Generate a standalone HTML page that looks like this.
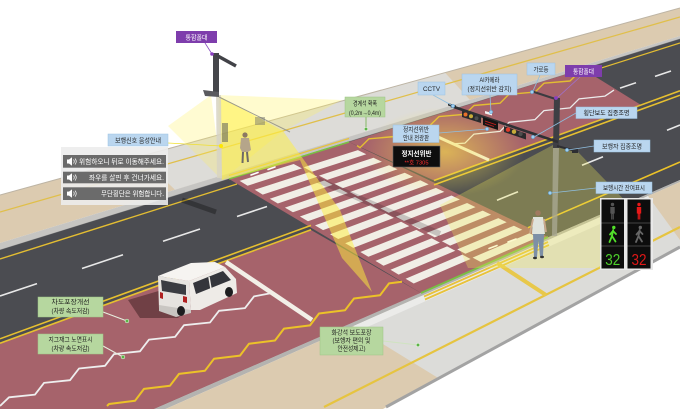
<!DOCTYPE html>
<html><head><meta charset="utf-8"><style>
html,body{margin:0;padding:0;background:#fff;width:680px;height:409px;overflow:hidden}
svg{display:block}
text{font-family:"Liberation Sans","Noto Sans CJK KR",sans-serif}
</style></head><body>
<svg width="680" height="409" viewBox="0 0 680 409" xmlns="http://www.w3.org/2000/svg" style="overflow:hidden">
<defs>
<radialGradient id="glow" cx="50%" cy="50%" r="50%">
<stop offset="0" stop-color="#ffe94a" stop-opacity="0.6"/>
<stop offset="1" stop-color="#ffe94a" stop-opacity="0"/>
</radialGradient>
</defs>
<rect width="680" height="409" fill="#ffffff"/>

<!-- far sidewalk -->
<polygon points="0,195 680,8 680,36 0,243" fill="#dccbb0"/>
<polygon points="140,156.5 445,72.6 470,100 175,189.7" fill="#dddcd8"/>
<line x1="0" y1="212" x2="680" y2="17" stroke="#e0bf4a" stroke-width="1.3"/>
<line x1="0" y1="195" x2="680" y2="8" stroke="#bdb4a4" stroke-width="1"/>
<polygon points="0,243 680,36 680,39 0,250" fill="#c6c5c2"/>
<line x1="0" y1="250" x2="680" y2="39" stroke="#8a8a8a" stroke-width="0.8"/>

<!-- road -->
<polygon points="0,250 680,39 680,180 154,409 0,409" fill="#4b4c51"/>

<!-- red zones -->
<g fill="#a6636b">
<polygon points="0,343 311,230 421,293 154,409 0,409"/>
<polygon points="229,179 349,142 548,237 421,293"/>
<polygon points="349,142 583,69 641,105 434,180.5"/>
</g>

<!-- crosswalk stripes -->
<g fill="#f1eee6">
<polygon points="239.6,180.9 293.7,164.0 301.9,168.4 247.6,185.7"/>
<polygon points="254.7,189.8 309.0,172.3 317.2,176.7 262.7,194.6"/>
<polygon points="269.8,198.7 324.3,180.5 332.6,184.9 277.8,203.5"/>
<polygon points="284.9,207.6 339.7,188.7 347.9,193.1 292.9,212.3"/>
<polygon points="299.9,216.5 355.0,197.0 363.2,201.4 308.0,221.2"/>
<polygon points="315.0,225.4 370.4,205.2 378.6,209.6 323.1,230.1"/>
<polygon points="330.1,234.3 385.7,213.4 393.9,217.9 338.2,239.0"/>
<polygon points="345.2,243.2 401.1,221.7 409.3,226.1 353.3,247.9"/>
<polygon points="360.3,252.0 416.4,229.9 424.6,234.3 368.4,256.8"/>
<polygon points="375.4,260.9 431.7,238.2 439.9,242.6 383.5,265.7"/>
<polygon points="390.5,269.8 447.1,246.4 455.3,250.8 398.6,274.6"/>
<polygon points="405.6,278.7 462.4,254.6 470.6,259.0 413.7,283.5"/>
<polygon points="303.7,167.3 357.9,150.1 366.3,154.2 311.9,171.7"/>
<polygon points="319.0,175.6 373.5,157.7 381.9,161.7 327.3,179.9"/>
<polygon points="334.4,183.8 389.1,165.2 397.5,169.3 342.6,188.2"/>
<polygon points="349.8,192.0 404.7,172.8 413.1,176.8 358.0,196.4"/>
<polygon points="365.1,200.2 420.3,180.3 428.7,184.4 373.3,204.6"/>
<polygon points="380.5,208.4 435.9,187.9 444.3,191.9 388.7,212.8"/>
<polygon points="395.8,216.6 451.5,195.5 459.9,199.5 404.0,221.0"/>
<polygon points="411.2,224.8 467.1,203.0 475.5,207.1 419.4,229.2"/>
<polygon points="426.5,233.0 482.7,210.6 491.1,214.6 434.7,237.4"/>
<polygon points="441.9,241.2 498.3,218.1 506.7,222.2 450.1,245.6"/>
<polygon points="457.2,249.4 513.9,225.7 522.3,229.7 465.4,253.8"/>
<polygon points="472.6,257.6 529.5,233.2 537.9,237.3 480.8,262.0"/>
</g>
<!-- ped arrows -->
<g stroke="#ffffff" stroke-width="1.6" stroke-linecap="round">
<line x1="251" y1="175" x2="258" y2="172.5"/>
<line x1="268" y1="169.5" x2="275" y2="167"/>
<line x1="489" y1="248.5" x2="497" y2="245.5"/>
<line x1="508" y1="242" x2="516" y2="239"/>
</g>

<!-- near curb & sidewalk -->
<polygon points="154,409 680,180 680,182 165.5,409" fill="#b4b3b0"/>
<polygon points="165.5,409 680,182 680,247 383,409" fill="#dccbb0"/>
<polygon points="353.5,326 648,196 680,240 680,247 439,378.5" fill="#dcdcd9"/>
<polygon points="353.5,326 648,196 651,201.5 357,331.5" fill="#ebebe9"/>
<line x1="386" y1="407" x2="680" y2="247" stroke="#a3a3a3" stroke-width="3"/>
<line x1="324" y1="407" x2="680" y2="227" stroke="#e6c440" stroke-width="2.2"/>
<line x1="421" y1="293" x2="548" y2="237" stroke="#79c043" stroke-width="2"/>
<line x1="424" y1="296.5" x2="548" y2="242" stroke="#e8c23a" stroke-width="1.8"/>
<line x1="425" y1="299.5" x2="549" y2="245" stroke="#e8c23a" stroke-width="1.8"/>
<line x1="497" y1="263" x2="546" y2="295" stroke="#e8c84a" stroke-width="4"/>
<line x1="229" y1="179" x2="349" y2="142" stroke="#79c043" stroke-width="1.5"/>
<line x1="229" y1="175.5" x2="349" y2="138.5" stroke="#e8c23a" stroke-width="1.2"/>

<!-- lane markings -->
<g fill="none" stroke-linejoin="round">
<line x1="0" y1="259" x2="237" y2="184" stroke="#e3bd32" stroke-width="1.4"/>
<line x1="590" y1="71.6" x2="680" y2="43" stroke="#e3bd32" stroke-width="1.2"/>
<polyline points="357,145.6 360,147.7 369,138.8 395,136.5 404,127.7 430,125.4 439,116.6 465,114.3 474,105.5 500,103.2 509,94.3 535,92.1 544,83.2 570,81.0 579,72.1 590,71.6" stroke="#e3bd32" stroke-width="1.4"/>
<g stroke="#e8e8e8" stroke-width="1.6">
<line x1="0" y1="296" x2="37" y2="283.6"/>
<line x1="82" y1="268.5" x2="123" y2="254.8"/>
<line x1="163" y1="241.3" x2="200" y2="229"/>
<line x1="237" y1="216.5" x2="267" y2="206.5"/>
<line x1="620" y1="88.1" x2="636" y2="82.7"/>
<line x1="655" y1="76.4" x2="671" y2="71"/>
<line x1="497" y1="200.3" x2="518" y2="191.7"/>
<line x1="582" y1="165.3" x2="603" y2="156.7"/>
<line x1="667" y1="130.3" x2="680" y2="125"/>
</g>
<polyline points="454,143.8 465,143.1 474,134.1 500,131.4 509,122.3 535,119.6 544,110.6 570,107.9 579,98.9 605,96.1 614,90.1" stroke="#ececec" stroke-width="1.3"/>
<g stroke="#e6c030" stroke-width="1.6">
<line x1="0" y1="338.8" x2="311" y2="225.4"/>
<line x1="0" y1="343.2" x2="311" y2="229.8"/>
<line x1="434" y1="180.5" x2="680" y2="90.8"/>
<line x1="434" y1="184.9" x2="680" y2="95.2"/>
</g>
<polyline points="0,406 9,397.3 35,394.6 44,382.9 70,380.2 79,368.5 105,365.8 114,354.1 140,351.3 149,339.6 175,336.9 184,325.2 210,322.5 219,310.8 245,308.1 254,296.4 272,293" stroke="#eeeeee" stroke-width="1.8"/>
<polyline points="107,406 109,404 135,400.8 144,388.9 170,385.7 179,373.9 205,370.7 214,358.8 240,355.6 249,343.7 275,340.5 284,328.6 310,325.4 319,313.5 345,310.3 354,298.5 380,295.3 389,283.4 402,281.8" stroke="#ecc228" stroke-width="2"/>
<line x1="528" y1="227.7" x2="680" y2="162" stroke="#ecc228" stroke-width="1.6"/>
<line x1="226" y1="262" x2="312" y2="320" stroke="#f2efe7" stroke-width="4.5"/>
<line x1="418" y1="128" x2="489" y2="160" stroke="#f2efe7" stroke-width="3"/>
</g>

<!-- shadows -->
<line x1="318" y1="180" x2="440" y2="234" stroke="#1e141e" stroke-opacity="0.2" stroke-width="6"/>
<line x1="182" y1="200" x2="216" y2="212" stroke="#000" stroke-opacity="0.3" stroke-width="5"/>

<!-- car -->
<g>
<polygon points="128,300 162,290 192,306 178,318 140,318" fill="#5d3438" opacity="0.75"/>
<polygon points="158,276 189,281 191,310 176,315 159,309" fill="#e6e3df"/>
<polygon points="158,276 191,263 215,262 225,267 189,281" fill="#f6f4f1"/>
<polygon points="189,281 225,267 236,279 237,293 200,310 191,310" fill="#eeebe7"/>
<polygon points="193,283 223,271 231,280 196,294" fill="#34353b"/>
<line x1="209" y1="277" x2="211" y2="289" stroke="#eeebe7" stroke-width="1.5"/>
<polygon points="161,280 186,285 186,295 162,291" fill="#3b3c42"/>
<polygon points="160,292 163,293 163,299 160,298" fill="#b02020"/>
<polygon points="183,296 187,297 187,303 183,302" fill="#b02020"/>
<polygon points="159,305 191,310 191,313 176,317 159,311" fill="#c9c6c2"/>
<ellipse cx="181" cy="311" rx="4" ry="5" fill="#1d1d1f"/>
<ellipse cx="229" cy="292" rx="4" ry="5" fill="#1d1d1f"/>
</g>

<!-- lights -->
<ellipse cx="445" cy="152" rx="80" ry="45" fill="url(#glow)"/>
<polygon points="211,95 168,126 222,180" fill="#fff25e" opacity="0.28"/>
<polygon points="217,95 342,100 283,131 222,180" fill="#fff25e" opacity="0.3"/>
<polygon points="219,96 283,131 340,210 372,292 342,258 300,160 222,180" fill="#fff03c" opacity="0.5"/>
<polygon points="553,145 578,152 636,212 605,268 468,268 440,205" fill="#f3ec5a" opacity="0.3"/>

<!-- left pole -->
<polygon points="213,53 219,53 219,95 213,95" fill="#45464b"/>
<polygon points="216,95 221,95 222,178 217,178" fill="#d7d3c3" opacity="0.85"/>
<line x1="216" y1="55" x2="236" y2="66" stroke="#414247" stroke-width="3.5"/>
<polygon points="203,90 219,92 219,97 205,96" fill="#5a5a5f"/>
<line x1="219" y1="97" x2="290" y2="132" stroke="#9b9a8c" stroke-width="1"/>
<rect x="222" y="123" width="6" height="19" fill="#6a6a60" opacity="0.6"/>
<rect x="255" y="117" width="10" height="8" fill="#7a7a70" opacity="0.5"/>
<!-- left pedestrian -->
<circle cx="245" cy="135" r="2.6" fill="#8b7862"/>
<polygon points="241,138 249,138 251,150 248,152 242,152 240,148" fill="#b5a58a"/>
<line x1="243" y1="152" x2="242.5" y2="163" stroke="#6e6a66" stroke-width="2"/>
<line x1="247" y1="152" x2="248" y2="162" stroke="#6e6a66" stroke-width="2"/>

<!-- right pole -->
<polygon points="554,98 560,98 559,148 553,148" fill="#3e3f44"/>
<polygon points="553,148 559,148 557,236 552,236" fill="#a9a792" opacity="0.8"/>
<line x1="531" y1="91" x2="557" y2="99.5" stroke="#3a3b40" stroke-width="2.2"/>
<line x1="451" y1="106" x2="558" y2="142" stroke="#2f3034" stroke-width="2.6"/>
<line x1="557" y1="146" x2="576" y2="151" stroke="#2d2e32" stroke-width="2"/>
<rect x="572" y="149" width="6" height="4" fill="#2d2e32"/>
<polygon points="448,103 456,105.5 456,108 448,105.5" fill="#2a2a2a"/>
<polygon points="462,111 481,117 481,123 462,117" fill="#2a2a2c"/>
<circle cx="465.5" cy="114.5" r="2" fill="#e8702a"/>
<circle cx="471" cy="116.3" r="2" fill="#c8ac3a"/>
<circle cx="476.5" cy="118.2" r="2" fill="#4d4d4d"/>
<polygon points="504,126 526,133.5 526,139.5 504,132" fill="#2a2a2c"/>
<circle cx="508" cy="129.7" r="2.2" fill="#e03a2a"/>
<circle cx="514" cy="131.7" r="2.2" fill="#c8ac3a"/>
<circle cx="520.5" cy="133.9" r="2.2" fill="#4d4d4d"/>
<polygon points="483,117 498,122 498,130 483,125" fill="#151515"/>
<line x1="485" y1="121" x2="496" y2="124.7" stroke="#d02020" stroke-width="0.8"/>
<line x1="485" y1="123.5" x2="494" y2="126.5" stroke="#c02020" stroke-width="0.8"/>
<polygon points="485,111 492,113 492,115.5 485,113.5" fill="#f2f2f2"/>
<!-- right pedestrian -->
<circle cx="538" cy="213" r="2.8" fill="#a07a60"/>
<polygon points="533,217 543,217 545,234 532,234" fill="#dfe3dc"/>
<line x1="533" y1="219" x2="530" y2="233" stroke="#c9a88b" stroke-width="1.8"/>
<line x1="544" y1="219" x2="546" y2="232" stroke="#c9a88b" stroke-width="1.8"/>
<polygon points="533,234 544,234 543,256 540,256 538.5,240 537,257 534,257" fill="#7d8fa6"/>
<ellipse cx="535" cy="258" rx="2" ry="1.2" fill="#333"/>
<ellipse cx="542" cy="257" rx="2" ry="1.2" fill="#333"/>

<!-- leaders -->
<g stroke-width="0.8" fill="none">
<line x1="205" y1="43" x2="212" y2="54" stroke="#8a50c0"/>
<line x1="168" y1="143" x2="221" y2="146" stroke="#f0e030"/>
<line x1="366" y1="117" x2="366" y2="129" stroke="#6fb04a"/>
<line x1="433" y1="95" x2="453" y2="106" stroke="#8fbfe0"/>
<line x1="490" y1="95" x2="491" y2="112" stroke="#8fbfe0"/>
<line x1="540" y1="75" x2="533" y2="91" stroke="#8fbfe0"/>
<line x1="580" y1="77" x2="557" y2="98" stroke="#a070d0"/>
<line x1="576" y1="113" x2="534" y2="137" stroke="#8fbfe0"/>
<line x1="594" y1="146" x2="568" y2="150" stroke="#8fbfe0"/>
<line x1="596" y1="188" x2="551" y2="193" stroke="#8fbfe0"/>
<line x1="439" y1="133" x2="487" y2="129" stroke="#8fbfe0"/>
<line x1="103" y1="312" x2="127" y2="321" stroke="#e8efe0" stroke-width="1"/>
<line x1="103" y1="346" x2="123" y2="357" stroke="#e8efe0" stroke-width="1"/>
<line x1="383" y1="341" x2="418" y2="345" stroke="#cfe3c0" stroke-width="1"/>
</g>
<g>
<circle cx="212" cy="54" r="1.8" fill="#8a3fc0"/>
<circle cx="556" cy="98" r="1.9" fill="#8a3fc0"/>
<circle cx="221" cy="146" r="2" fill="#ffe600"/>
<g fill="#9fd0f0" stroke="#5a9ad0" stroke-width="0.5">
<circle cx="453" cy="106" r="1.7"/>
<circle cx="491" cy="112" r="1.7"/>
<circle cx="532" cy="92" r="1.7"/>
<circle cx="533" cy="137" r="1.7"/>
<circle cx="567" cy="150" r="1.7"/>
<circle cx="550" cy="193" r="1.7"/>
<circle cx="487" cy="129" r="1.7"/>
</g>
<g fill="#5cb346" stroke="#ffffff" stroke-width="0.5">
<circle cx="366" cy="129" r="1.8"/>
<circle cx="127" cy="321" r="1.9"/>
<circle cx="123" cy="357" r="1.9"/>
<circle cx="418" cy="345" r="1.8"/>
</g>
</g>

<!-- message panel -->
<rect x="61" y="147" width="107" height="58" fill="#ececec" opacity="0.9"/>
<g fill="#6b6b6b">
<rect x="63" y="155" width="103" height="12.7"/>
<rect x="63" y="171.7" width="103" height="11.6"/>
<rect x="63" y="187.3" width="103" height="12.7"/>
</g>
<g fill="#ffffff">
<rect x="67" y="159.5" width="2" height="4"/><polygon points="69,159.5 72,157.3 72,165.7 69,163.5"/>
<rect x="67" y="175.5" width="2" height="4"/><polygon points="69,175.5 72,173.3 72,181.7 69,179.5"/>
<rect x="67" y="191.6" width="2" height="4"/><polygon points="69,191.6 72,189.4 72,197.8 69,195.6"/>
</g>
<g stroke="#ffffff" stroke-width="0.7" fill="none">
<path d="M73.5,159.5 q1.5,2 0,4"/><path d="M75,158.5 q2.5,3 0,6"/>
<path d="M73.5,175.5 q1.5,2 0,4"/><path d="M75,174.5 q2.5,3 0,6"/>
<path d="M73.5,191.6 q1.5,2 0,4"/><path d="M75,190.6 q2.5,3 0,6"/>
</g>
<g fill="#ffffff" font-size="7" text-anchor="end">
<text x="164" y="163.9" textLength="85" lengthAdjust="spacingAndGlyphs">위험하오니 뒤로 이동해주세요.</text>
<text x="164" y="180" textLength="75" lengthAdjust="spacingAndGlyphs">좌우를 살핀 후 건너가세요.</text>
<text x="164" y="196.2" textLength="63" lengthAdjust="spacingAndGlyphs">무단횡단은 위험합니다.</text>
</g>

<!-- label boxes -->
<g fill="#bad6ef" stroke="#9cc2e2" stroke-width="0.5">
<rect x="108" y="134" width="60" height="12"/>
<rect x="418" y="82" width="27" height="13"/>
<rect x="462" y="74" width="55" height="21"/>
<rect x="527" y="63" width="28" height="12"/>
<rect x="576" y="107" width="61" height="11.5"/>
<rect x="594" y="140" width="56" height="12"/>
<rect x="596" y="182" width="56" height="11.5"/>
<rect x="393" y="125" width="46" height="17.5"/>
</g>
<g fill="#b6d79f" stroke="#9cc585" stroke-width="0.5">
<rect x="345" y="97" width="40" height="20"/>
<rect x="38" y="297" width="65" height="20"/>
<rect x="38" y="334" width="65" height="20"/>
<rect x="320" y="327" width="63" height="28"/>
</g>
<g fill="#7e3dac">
<rect x="176" y="31" width="41" height="12"/>
<rect x="565" y="65" width="37" height="12"/>
</g>
<rect x="393" y="146" width="47" height="21" fill="#0e0e0e" stroke="#666" stroke-width="0.6"/>

<g font-size="6.5" text-anchor="middle" fill="#1e1e1e">
<text x="196.5" y="39.6" fill="#ffffff" textLength="22" lengthAdjust="spacingAndGlyphs">통합폴대</text>
<text x="583.5" y="73.6" fill="#ffffff" textLength="21" lengthAdjust="spacingAndGlyphs">통합폴대</text>
<text x="138" y="142.3" textLength="46" lengthAdjust="spacingAndGlyphs">보행신호 음성안내</text>
<text x="365" y="105.6" textLength="24" lengthAdjust="spacingAndGlyphs">경계석 확폭</text>
<text x="365" y="115" textLength="32" lengthAdjust="spacingAndGlyphs">(0,2m→0,4m)</text>
<text x="431.5" y="91" textLength="17" lengthAdjust="spacingAndGlyphs">CCTV</text>
<text x="489.5" y="81.8" textLength="20" lengthAdjust="spacingAndGlyphs">AI카메라</text>
<text x="489.5" y="90.8" textLength="44" lengthAdjust="spacingAndGlyphs">(정지선위반 감지)</text>
<text x="541" y="71.5" textLength="15" lengthAdjust="spacingAndGlyphs">가로등</text>
<text x="606.5" y="115.2" textLength="46" lengthAdjust="spacingAndGlyphs">횡단보도 집중조명</text>
<text x="622" y="148.4" textLength="40" lengthAdjust="spacingAndGlyphs">보행자 집중조명</text>
<text x="624" y="190.2" textLength="42" lengthAdjust="spacingAndGlyphs">보행시간 잔여표시</text>
<text x="416" y="131.5" textLength="26" lengthAdjust="spacingAndGlyphs">정지선위반</text>
<text x="416" y="140" textLength="26" lengthAdjust="spacingAndGlyphs">안내 전광판</text>
<text x="70.5" y="304.2" textLength="38" lengthAdjust="spacingAndGlyphs">차도포장개선</text>
<text x="70.5" y="313.2" textLength="38" lengthAdjust="spacingAndGlyphs">(차량 속도저감)</text>
<text x="70.5" y="341.4" textLength="44" lengthAdjust="spacingAndGlyphs">지그재그 노면표시</text>
<text x="70.5" y="350.4" textLength="38" lengthAdjust="spacingAndGlyphs">(차량 속도저감)</text>
<text x="351.5" y="334.6" textLength="40" lengthAdjust="spacingAndGlyphs">화강석 보도포장</text>
<text x="351.5" y="342.6" textLength="38" lengthAdjust="spacingAndGlyphs">(보행자 편의 및</text>
<text x="351.5" y="350.6" textLength="28" lengthAdjust="spacingAndGlyphs">안전성제고)</text>
<text x="416.5" y="156" fill="#ffffff" font-size="7" font-weight="bold" textLength="30" lengthAdjust="spacingAndGlyphs">정지선위반</text>
<text x="416.5" y="164.3" fill="#ff2e2e" font-size="5.5" textLength="24" lengthAdjust="spacingAndGlyphs">**호 7305</text>
</g>

<!-- pedestrian signal display -->
<rect x="600" y="198" width="53" height="72" fill="#e8e8e8"/>
<rect x="601.5" y="199.5" width="22.5" height="69" fill="#0d0d0d"/>
<rect x="627.5" y="199.5" width="23" height="69" fill="#0d0d0d"/>
<g stroke="#555" stroke-width="0.8">
<line x1="601.5" y1="223" x2="624" y2="223"/><line x1="601.5" y1="246" x2="624" y2="246"/>
<line x1="627.5" y1="223" x2="650.5" y2="223"/><line x1="627.5" y1="246" x2="650.5" y2="246"/>
</g>
<g fill="#555">
<circle cx="612.5" cy="204.5" r="1.7"/>
<path d="M610.3,207 h4.4 v6.5 h-0.9 v6 h-1.1 v-5.5 h-0.4 v5.5 h-1.1 v-6 h-0.9 z"/>
</g>
<g fill="#e81818">
<circle cx="639" cy="204.5" r="1.7"/>
<path d="M636.8,207 h4.4 v6.5 h-0.9 v6 h-1.1 v-5.5 h-0.4 v5.5 h-1.1 v-6 h-0.9 z"/>
</g>
<g stroke="#52e02a" stroke-width="1.8" stroke-linecap="round" fill="none">
<line x1="613.2" y1="230" x2="612" y2="236"/>
<line x1="612" y1="236" x2="609.5" y2="242"/>
<line x1="612" y1="236" x2="615.5" y2="241.5"/>
<line x1="613" y1="231" x2="610" y2="234.5"/>
<line x1="613" y1="231" x2="616" y2="234"/>
</g>
<circle cx="613.8" cy="227.5" r="1.7" fill="#52e02a"/>
<g stroke="#666" stroke-width="1.8" stroke-linecap="round" fill="none">
<line x1="639.7" y1="230" x2="638.5" y2="236"/>
<line x1="638.5" y1="236" x2="636" y2="242"/>
<line x1="638.5" y1="236" x2="642" y2="241.5"/>
<line x1="639.5" y1="231" x2="636.5" y2="234.5"/>
<line x1="639.5" y1="231" x2="642.5" y2="234"/>
</g>
<circle cx="640.3" cy="227.5" r="1.7" fill="#666"/>
<text x="612.8" y="265" font-size="16" fill="#4ed02c" text-anchor="middle" textLength="15" lengthAdjust="spacingAndGlyphs">32</text>
<text x="639" y="265" font-size="16" fill="#e01818" text-anchor="middle" textLength="15" lengthAdjust="spacingAndGlyphs">32</text>
</svg>
</body></html>
